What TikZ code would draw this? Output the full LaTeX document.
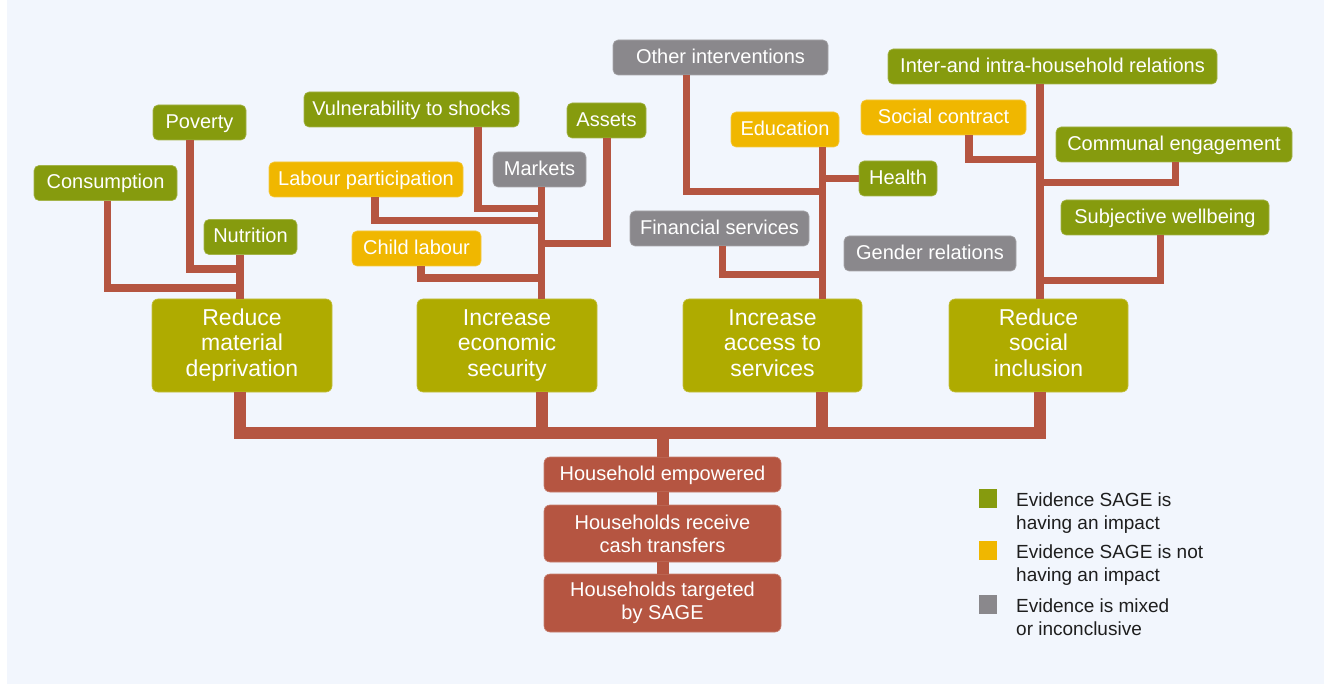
\documentclass[tikz,border=0pt]{standalone}
\usepackage{fontspec}
\setmainfont{Liberation Sans}
\definecolor{evgreen}{HTML}{869B0E}
\definecolor{nogold}{HTML}{F0B700}
\definecolor{mixgray}{HTML}{8A888C}
\definecolor{olivebox}{HTML}{AFAB00}
\definecolor{brick}{HTML}{B55541}
\definecolor{bgcol}{HTML}{F2F6FD}
\definecolor{legtext}{HTML}{1E1E1E}
\begin{document}
\begin{tikzpicture}[x=1pt,y=-1pt,
  lbl/.style={rounded corners=5pt, inner sep=0pt, text=white,
    font=\fontsize{20}{24}\selectfont, minimum height=35pt,
    text height=14pt, text depth=2pt},
  goodbox/.style={lbl, fill=evgreen, draw=evgreen!75!white, line width=0.6pt},
  nobox/.style={lbl, fill=nogold, draw=nogold!75!white, line width=0.6pt},
  mixbox/.style={lbl, fill=mixgray, draw=mixgray!75!white, line width=0.6pt},
  aimbox/.style={rounded corners=6pt, inner sep=0pt, text=white, align=center,
    font=\fontsize{23}{25.5}\selectfont, minimum width=180pt, minimum height=93pt,
    fill=olivebox, draw=olivebox!75!white, line width=0.6pt},
  hhbox/.style={rounded corners=6pt, inner sep=0pt, text=white, align=center,
    font=\fontsize{20}{23}\selectfont, minimum width=237pt,
    fill=brick, draw=brick!75!white, line width=0.6pt},
  branch/.style={draw=brick, line width=7.5pt, line join=miter},
  trunk/.style={draw=brick, line width=12pt, line join=miter},
  legsq/.style={inner sep=0pt, minimum width=18pt, minimum height=19pt},
  legtxt/.style={inner sep=0pt, align=left, text=legtext,
    font=\fontsize{19}{23}\selectfont, anchor=north west}
]
\useasboundingbox (0,0) rectangle (1324,684);
\fill[bgcol] (7,0) rectangle (1324,684);

% ---------- upper labels ----------
\node[goodbox, minimum width=143pt] (cons) at (105.5,183) {Consumption};
\node[goodbox, minimum width=93pt] (pov) at (199.5,122.5) {Poverty};
\node[goodbox, minimum width=93pt] (nut) at (250.5,237) {Nutrition};
\node[goodbox, minimum width=215pt] (vul) at (411.5,109.5) {Vulnerability to shocks};
\node[nobox, minimum width=194pt] (lab) at (366,179.5) {Labour participation};
\node[nobox, minimum width=129pt] (child) at (416.5,248.5) {Child labour};
\node[mixbox, minimum width=93pt] (mkt) at (539.5,169.5) {Markets};
\node[goodbox, minimum width=79pt] (assets) at (606.5,120.5) {Assets};
\node[mixbox, minimum width=215pt] (other) at (720.5,57.5) {Other interventions};
\node[nobox, minimum width=108pt] (edu) at (785,129.5) {Education};
\node[goodbox, minimum width=78pt] (health) at (898,178.5) {Health};
\node[mixbox, minimum width=179pt] (fin) at (719.5,228.5) {Financial services};
\node[mixbox, minimum width=172pt] (gender) at (930,253.5) {Gender relations};
\node[goodbox, minimum width=329pt] (inter) at (1052.5,66.5) {Inter-and intra-household relations};
\node[nobox, minimum width=165pt] (social) at (943.5,117.5) {Social contract};
\node[goodbox, minimum width=236pt] (comm) at (1174,144.5) {Communal engagement};
\node[goodbox, minimum width=208pt] (subj) at (1165,217.5) {Subjective wellbeing};

% ---------- aims ----------
\node[aimbox] (rmd) at (242,345.5) {\strut Reduce\\material\\deprivation\strut};
\node[aimbox] (ies) at (507,345.5) {\strut Increase\\economic\\security\strut};
\node[aimbox, minimum width=179pt] (ias) at (772.5,345.5) {\strut Increase\\access to\\services\strut};
\node[aimbox, minimum width=179pt] (rsi) at (1038.5,345.5) {\strut Reduce\\social\\inclusion\strut};

% ---------- household chain ----------
\node[hhbox, minimum height=35pt, text height=14pt, text depth=2pt] (emp) at (662.5,474.5) {Household empowered};
\node[hhbox, minimum height=57pt] (recv) at (662.5,533.5) {Households receive\\cash transfers};
\node[hhbox, minimum height=58pt] (targ) at (662.5,603) {Households targeted\\by SAGE};

% ---------- junction coordinates ----------
\coordinate (t1) at (240,433);
\coordinate (t2) at (541.5,433);
\coordinate (t3) at (822,433);
\coordinate (t4) at (1040,433);
\coordinate (t0) at (662.5,433);
\coordinate (s1) at (240,300);
\coordinate (s2) at (541.5,300);
\coordinate (s3) at (822.5,300);
\coordinate (s4) at (1040,300);
\coordinate (bpov) at (190,269);
\coordinate (bcons) at (107.5,288);
\coordinate (bvul) at (478,208.5);
\coordinate (blab) at (375,220.5);
\coordinate (bassets) at (607,243.5);
\coordinate (bchild) at (421,278);
\coordinate (bother) at (686.5,191.5);
\coordinate (bfin) at (722.5,274.5);
\coordinate (bsocial) at (969,159.5);
\coordinate (bcomm) at (1175.5,182.5);
\coordinate (bsubj) at (1160.5,280.5);

% ---------- trunk ----------
\draw[trunk] (rmd.south -| t1) -- (t1) -- (t4) -- (rsi.south -| t4);
\draw[trunk] (ies.south -| t2) -- (t2);
\draw[trunk] (ias.south -| t3) -- (t3);
\draw[trunk] (t0) -- (emp.north);
\draw[trunk] (emp.south) -- (recv.north);
\draw[trunk] (recv.south) -- (targ.north);

% ---------- branches: material deprivation ----------
\draw[branch] (nut.south -| s1) -- (rmd.north -| s1);
\draw[branch] (pov.south -| bpov) -- (bpov) -- (bpov -| s1);
\draw[branch] (cons.south -| bcons) -- (bcons) -- (bcons -| s1);

% ---------- branches: economic security ----------
\draw[branch] (mkt.south -| s2) -- (ies.north -| s2);
\draw[branch] (vul.south -| bvul) -- (bvul) -- (bvul -| s2);
\draw[branch] (lab.south -| blab) -- (blab) -- (blab -| s2);
\draw[branch] (assets.south -| bassets) -- (bassets) -- (bassets -| s2);
\draw[branch] (child.south -| bchild) -- (bchild) -- (bchild -| s2);

% ---------- branches: access to services ----------
\draw[branch] (edu.south -| s3) -- (ias.north -| s3);
\draw[branch] (other.south -| bother) -- (bother) -- (bother -| s3);
\draw[branch] (health.west -| s3) -- (health.west);
\draw[branch] (fin.south -| bfin) -- (bfin) -- (bfin -| s3);

% ---------- branches: social inclusion ----------
\draw[branch] (inter.south -| s4) -- (rsi.north -| s4);
\draw[branch] (social.south -| bsocial) -- (bsocial) -- (bsocial -| s4);
\draw[branch] (comm.south -| bcomm) -- (bcomm) -- (bcomm -| s4);
\draw[branch] (subj.south -| bsubj) -- (bsubj) -- (bsubj -| s4);

% ---------- legend ----------
\node[legsq, fill=evgreen] (lg1) at (988,498.5) {};
\node[legsq, fill=nogold] (lg2) at (988,550) {};
\node[legsq, fill=mixgray] (lg3) at (988,604.5) {};
\node[legtxt] (lt1) at (1016,493) {Evidence SAGE is\\having an impact};
\node[legtxt] (lt2) at (1016,545) {Evidence SAGE is not\\having an impact};
\node[legtxt] (lt3) at (1016,599) {Evidence is mixed\\or inconclusive};
\end{tikzpicture}
\end{document}
